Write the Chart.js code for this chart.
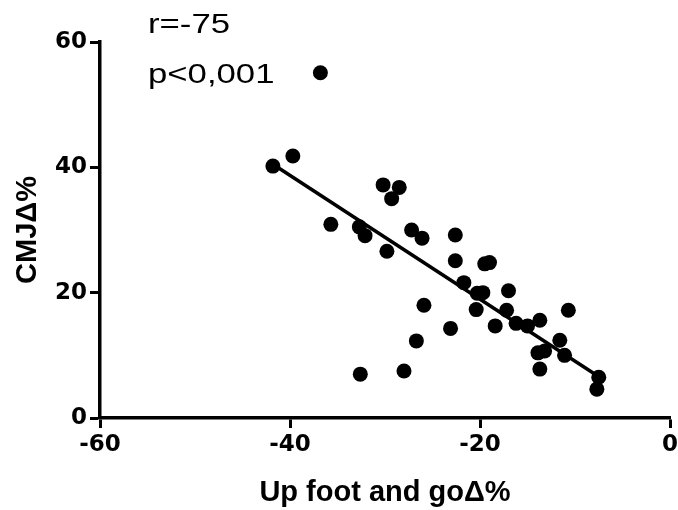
<!DOCTYPE html>
<html>
<head>
<meta charset="utf-8">
<script src="https://cdn.jsdelivr.net/npm/chart.js@4.4.0/dist/chart.umd.min.js"></script>
<style>
  html, body { margin: 0; padding: 0; background: #fff; }
  #wrap { width: 678px; height: 510px; }
</style>
</head>
<body>
<div id="wrap"><canvas id="chart" width="678" height="510"></canvas></div>
<script>
  // values
  const upFootX = [
    -36.8, -39.7, -41.8, -30.2, -28.5, -29.3, -35.7, -32.7, -32.1, -29.8,
    -27.2, -26.1, -22.6, -22.6, -25.9, -23.1, -26.7, -28.0, -32.6, -21.7,
    -20.3, -19.7, -20.4, -19.5, -19.0, -17.0, -17.2, -18.4, -16.2, -15.0,
    -13.7, -10.7, -11.6, -13.9, -13.2, -11.1, -13.7, -7.5, -7.7
  ];
  const cmjY = [
    55.1, 41.8, 40.2, 37.2, 36.8, 35.0, 30.9, 30.5, 29.1, 26.6,
    30.0, 28.7, 29.2, 25.1, 18.0, 14.3, 12.3, 7.5, 7.0, 21.6,
    19.9, 20.0, 17.3, 24.6, 24.8, 20.3, 17.2, 14.7, 15.1, 14.7,
    15.6, 17.2, 12.4, 10.4, 10.7, 10.0, 7.8, 6.5, 4.6
  ];
  const fitX = [-41.8, -7.6];
  const fitY = [40.5, 6.7];
  const xTicks = [-60, -40, -20, 0];
  const yTicks = [0, 20, 40, 60];
  const statLines = ['r=-75', 'p<0,001'];

  const FONT = "'Liberation Sans', Arial, sans-serif";
  const TICK_FONT = "'DejaVu Sans', 'Liberation Sans', sans-serif";

  function toPoints(xs, ys) {
    return xs.map((x, i) => ({ x: x, y: ys[i] }));
  }

  // r / p text in the top-left
  const statsText = {
    id: 'statsText',
    afterDraw(chart) {
      const ctx = chart.ctx;
      ctx.save();
      ctx.fillStyle = '#000';
      ctx.font = '28px ' + FONT;
      ctx.textBaseline = 'alphabetic';
      const baselines = [33, 83];
      statLines.forEach((t, i) => {
        ctx.save();
        ctx.translate(148, baselines[i]);
        ctx.scale(1.24, 1);
        ctx.fillText(t, 0, 0);
        ctx.restore();
      });
      ctx.restore();
    }
  };

  const axisCommon = {
    border: { display: true, color: '#000', width: 3.5 },
    grid: {
      display: true,
      drawOnChartArea: false,
      drawTicks: true,
      tickLength: 10,
      tickColor: '#000',
      tickWidth: 3
    },
    ticks: {
      color: '#000',
      font: { family: TICK_FONT, size: 23, weight: 'bold' },
      padding: 3,
      autoSkip: false,
      maxRotation: 0
    },
    title: {
      display: true,
      color: '#000',
      font: { family: FONT, size: 29, weight: 'bold' }
    }
  };

  new Chart(document.getElementById('chart'), {
    type: 'scatter',
    data: {
      datasets: [
        {
          label: 'fit',
          type: 'line',
          data: toPoints(fitX, fitY),
          borderColor: '#000',
          borderWidth: 3.5,
          pointRadius: 0,
          fill: false
        },
        {
          label: 'CMJ',
          data: toPoints(upFootX, cmjY),
          backgroundColor: '#000',
          borderWidth: 0,
          pointRadius: 7.5,
          pointHoverRadius: 7.5
        }
      ]
    },
    options: {
      responsive: false,
      animation: false,
      devicePixelRatio: 1,
      layout: { padding: { top: 42, right: 0, left: 0, bottom: 0 } },
      plugins: { legend: { display: false }, tooltip: { enabled: false } },
      scales: {
        x: {
          ...axisCommon,
          type: 'linear',
          min: -60,
          max: 0,
          afterBuildTicks(scale) { scale.ticks = xTicks.map((v) => ({ value: v })); },
          afterFit(scale) {
            scale.height = 92;
            scale.paddingRight = 8; // keep the 0 tick close to the edge
          },
          title: { ...axisCommon.title, text: 'Up foot and goΔ%', padding: { top: 10, bottom: 0 } }
        },
        y: {
          ...axisCommon,
          type: 'linear',
          min: 0,
          max: 60,
          afterBuildTicks(scale) { scale.ticks = yTicks.map((v) => ({ value: v })); },
          afterFit(scale) { scale.width = 100; },
          title: { ...axisCommon.title, text: 'CMJΔ%', padding: { top: 11, bottom: 4 } }
        }
      }
    },
    plugins: [statsText]
  });
</script>
</body>
</html>
